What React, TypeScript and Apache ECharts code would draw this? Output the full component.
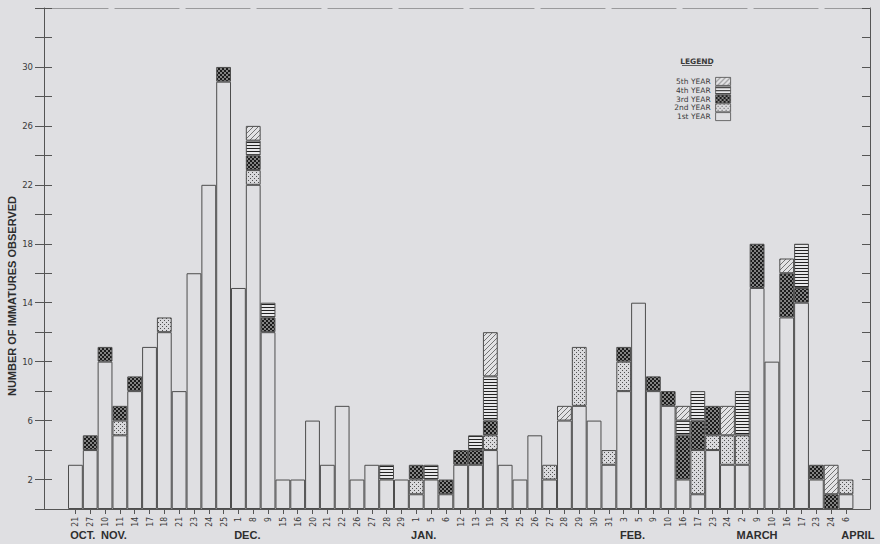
import { useEffect, useRef } from 'react';
import * as echarts from 'echarts';

// Sampling dates along the bottom axis (day of month)
const dayLabels = [
  '21', '27', '10', '11', '14', '17', '18', '21', '23', '24', '25', '1', '8', '9', '15',
  '16', '20', '21', '22', '26', '27', '28', '29', '1', '5', '6', '12', '13', '19', '24',
  '25', '26', '27', '28', '29', '30', '31', '3', '5', '9', '10', '16', '17', '23', '24',
  '2', '9', '10', '16', '17', '23', '24', '6',
];

// Month captions and the (fractional) category position they sit under
const monthNames = ['OCT.', 'NOV.', 'DEC.', 'JAN.', 'FEB.', 'MARCH', 'APRIL'];
const monthAt = [0.5, 2.6, 11.6, 23.5, 37.6, 46, 52.8];

const yLabelValues = [2, 6, 10, 14, 18, 22, 26, 30];
const yearNames = ['1st YEAR', '2nd YEAR', '3rd YEAR', '4th YEAR', '5th YEAR'];

// Immatures observed per sample, split by year class
const firstYear = [
  3, 4, 10, 5, 8, 11, 12, 8, 16, 22,
  29, 15, 22, 12, 2, 2, 6, 3, 7, 2,
  3, 2, 2, 1, 2, 1, 3, 3, 4, 3,
  2, 5, 2, 6, 7, 6, 3, 8, 14, 8,
  7, 2, 1, 4, 3, 3, 15, 10, 13, 14,
  2, 0, 1,
];
const secondYear = [
  0, 0, 0, 1, 0, 0, 1, 0, 0, 0,
  0, 0, 1, 0, 0, 0, 0, 0, 0, 0,
  0, 0, 0, 1, 0, 0, 0, 0, 1, 0,
  0, 0, 1, 0, 4, 0, 1, 2, 0, 0,
  0, 0, 3, 1, 2, 2, 0, 0, 0, 0,
  0, 0, 1,
];
const thirdYear = [
  0, 1, 1, 1, 1, 0, 0, 0, 0, 0,
  1, 0, 1, 1, 0, 0, 0, 0, 0, 0,
  0, 0, 0, 1, 0, 1, 1, 1, 1, 0,
  0, 0, 0, 0, 0, 0, 0, 1, 0, 1,
  1, 3, 2, 2, 0, 0, 3, 0, 3, 1,
  1, 1, 0,
];
const fourthYear = [
  0, 0, 0, 0, 0, 0, 0, 0, 0, 0,
  0, 0, 1, 1, 0, 0, 0, 0, 0, 0,
  0, 1, 0, 0, 1, 0, 0, 1, 3, 0,
  0, 0, 0, 0, 0, 0, 0, 0, 0, 0,
  0, 1, 2, 0, 0, 3, 0, 0, 0, 3,
  0, 0, 0,
];
const fifthYear = [
  0, 0, 0, 0, 0, 0, 0, 0, 0, 0,
  0, 0, 1, 0, 0, 0, 0, 0, 0, 0,
  0, 0, 0, 0, 0, 0, 0, 0, 3, 0,
  0, 0, 0, 1, 0, 0, 0, 0, 0, 0,
  0, 1, 0, 0, 2, 0, 0, 0, 1, 0,
  0, 2, 0,
];

const BG = '#dfdfe2';
const INK = '#3a3a3a';
const EDGE = '#4d4d4d';

type Painter = (g: CanvasRenderingContext2D, s: number) => void;

function tile(size: number, paint: Painter) {
  const c = document.createElement('canvas');
  c.width = size;
  c.height = size;
  const g = c.getContext('2d')!;
  paint(g, size);
  return { image: c, repeat: 'repeat', imageWidth: size, imageHeight: size };
}

function yearFills(): any[] {
  const stipple = tile(4, (g, s) => {
    g.fillStyle = '#d9d9dc';
    g.fillRect(0, 0, s, s);
    g.fillStyle = '#505050';
    g.fillRect(0, 0, 1, 1);
    g.fillRect(2, 2, 1, 1);
  });
  const check = tile(4, (g, s) => {
    g.fillStyle = '#1b1b1b';
    g.fillRect(0, 0, s, s);
    g.fillStyle = '#efefef';
    g.fillRect(0.3, 0.3, 1.4, 1.4);
    g.fillRect(2.3, 2.3, 1.4, 1.4);
  });
  const lines = tile(3, (g, s) => {
    g.fillStyle = '#e8e8ea';
    g.fillRect(0, 0, s, s);
    g.fillStyle = '#222';
    g.fillRect(0, 1, s, 1);
  });
  const hatch = tile(5, (g, s) => {
    g.fillStyle = '#e2e2e4';
    g.fillRect(0, 0, s, s);
    g.strokeStyle = '#666';
    g.lineWidth = 0.9;
    g.beginPath();
    for (let k = -1; k <= 1; k++) {
      g.moveTo(k * s, s);
      g.lineTo(k * s + s, 0);
    }
    g.stroke();
  });
  return [BG, stipple, check, lines, hatch];
}

export default function App() {
  const ref = useRef<HTMLDivElement>(null);

  useEffect(() => {
    const el = ref.current!;
    const chart = echarts.init(el, null, { renderer: 'svg' });
    const fills = yearFills();
    const stacks = [firstYear, secondYear, thirdYear, fourthYear, fifthYear];

    const frameY = {
      gridIndex: 0,
      type: 'value',
      min: 0,
      max: 34,
      interval: 2,
      splitLine: { show: false },
    };

    const option: any = {
      animation: false,
      backgroundColor: BG,
      textStyle: { fontFamily: 'DejaVu Sans' },
      grid: [
        { left: 44, right: 10, top: 8, bottom: 35 },
        { left: 68, right: 26.6, top: 8, bottom: 35 },
      ],
      xAxis: [
        {
          gridIndex: 0, type: 'value', position: 'bottom', min: 0, max: 1,
          axisLine: { show: true, onZero: false, lineStyle: { color: '#555', width: 1 } },
          axisTick: { show: false }, axisLabel: { show: false }, splitLine: { show: false },
        },
        {
          gridIndex: 0, type: 'value', position: 'top', min: 0, max: 1,
          axisLine: { show: true, onZero: false, lineStyle: { color: '#9a9a9c', width: 1.2, type: [64, 7] } },
          axisTick: { show: false }, axisLabel: { show: false }, splitLine: { show: false },
        },
        {
          gridIndex: 1, type: 'category', position: 'bottom', data: dayLabels,
          axisLine: { show: false, onZero: false },
          axisTick: { show: true, alignWithLabel: true, length: 5, lineStyle: { color: '#555' } },
          axisLabel: {
            interval: 0, rotate: 90, margin: 8, fontSize: 8.5, color: INK,
            fontFamily: '"Liberation Sans Narrow", "DejaVu Sans Condensed", sans-serif',
          },
          splitLine: { show: false },
        },
        {
          gridIndex: 1, type: 'value', min: -0.5, max: 52.5, show: false,
        },
      ],
      yAxis: [
        {
          ...frameY, position: 'left',
          axisLine: { show: true, onZero: false, lineStyle: { color: '#555', width: 1 } },
          axisTick: { show: true, inside: false, length: 9, lineStyle: { color: '#555' } },
          axisLabel: {
            margin: 11, fontSize: 8.5, color: INK, fontFamily: 'DejaVu Sans',
            formatter: (v: number) => (yLabelValues.includes(v) ? String(v) : ''),
          },
        },
        {
          ...frameY, position: 'left',
          axisLine: { show: false, onZero: false },
          axisTick: { show: true, inside: true, length: 8, lineStyle: { color: '#555' } },
          axisLabel: { show: false },
        },
        {
          ...frameY, position: 'right',
          axisLine: { show: true, onZero: false, lineStyle: { color: '#555', width: 1 } },
          axisTick: { show: true, inside: true, length: 8, lineStyle: { color: '#555' } },
          axisLabel: { show: false },
        },
        { gridIndex: 1, type: 'value', min: 0, max: 34, show: false },
      ],
      legend: {
        data: [...yearNames].reverse(),
        orient: 'vertical',
        align: 'right',
        right: 149,
        top: 77,
        padding: 0,
        itemGap: 0,
        itemWidth: 15,
        itemHeight: 8,
        icon: 'rect',
        selectedMode: false,
        textStyle: { fontSize: 7.5, fontFamily: 'DejaVu Sans', color: INK },
        itemStyle: { borderColor: EDGE, borderWidth: 0.8 },
      },
      series: stacks.map((vals, k) => ({
        name: yearNames[k],
        type: 'bar',
        stack: 'count',
        xAxisIndex: 2,
        yAxisIndex: 3,
        barCategoryGap: '0%',
        silent: true,
        data: vals.map((v) => (v === 0 ? '-' : v)),
        itemStyle: { color: fills[k], borderColor: EDGE, borderWidth: 1 },
      })),
    };

    chart.setOption(option);

    const zeroY = chart.convertToPixel({ yAxisIndex: 3 }, 0) as number;
    const monthTexts = monthNames.map((name, i) => ({
      type: 'text',
      x: chart.convertToPixel({ xAxisIndex: 3 }, monthAt[i]) as number,
      y: zeroY + 26,
      style: {
        text: name,
        align: 'center',
        verticalAlign: 'middle',
        font: 'bold 11px "Liberation Sans", Arial, sans-serif',
        fill: '#2e2e2e',
      },
    }));

    chart.setOption({
      graphic: {
        elements: [
          {
            type: 'text',
            x: 12,
            y: 296,
            rotation: Math.PI / 2,
            style: {
              text: 'NUMBER OF IMMATURES OBSERVED',
              align: 'center',
              verticalAlign: 'middle',
              font: 'bold 11px "Liberation Sans", Arial, sans-serif',
              fill: '#2e2e2e',
            },
          },
          {
            type: 'text',
            x: 697,
            y: 61,
            style: {
              text: 'LEGEND',
              align: 'center',
              verticalAlign: 'middle',
              font: 'bold 7.5px "DejaVu Sans", sans-serif',
              fill: INK,
            },
          },
          {
            type: 'line',
            shape: { x1: 682, y1: 65.5, x2: 712, y2: 65.5 },
            style: { stroke: INK, lineWidth: 0.8 },
          },
          ...monthTexts,
        ],
      },
    });

    return () => chart.dispose();
  }, []);

  return (
    <div
      ref={ref}
      style={{ position: 'fixed', left: 0, top: 0, width: 880, height: 544 }}
    />
  );
}
